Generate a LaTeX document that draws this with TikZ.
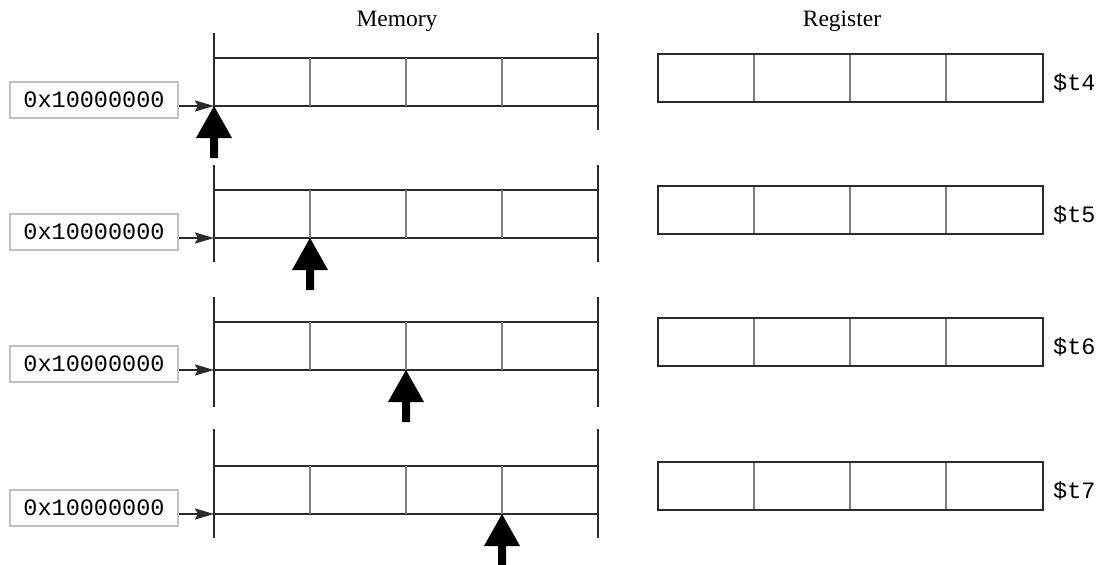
\documentclass[tikz,border=0pt]{standalone}
\usepackage{fontspec}
\setmainfont{Liberation Serif}
\setmonofont{Liberation Mono}
\usetikzlibrary{arrows.meta}
\definecolor{ink}{HTML}{2B2B2B}
\definecolor{divider}{HTML}{808080}
\definecolor{boxline}{HTML}{C0C0C0}
\tikzset{
  frame/.style={draw=ink, line width=2pt},
  cellsep/.style={draw=divider, line width=1.3pt},
  addrbox/.style={draw=boxline, line width=1.3pt, rectangle, minimum width=168pt,
    minimum height=36pt, inner sep=0pt, font=\ttfamily\fontsize{23.5}{28}\selectfont},
  title/.style={anchor=base, inner sep=0pt, font=\fontsize{23.5}{28}\selectfont},
  reglabel/.style={anchor=base west, inner sep=0pt, font=\ttfamily\fontsize{23.5}{28}\selectfont},
  feed/.style={draw=ink, line width=2pt, -{Stealth[length=19pt,width=11pt,inset=3pt]}},
  pointer/.style={fill=black, draw=none}
}
\begin{document}
\begin{tikzpicture}[x=1pt, y=-1pt]
  \useasboundingbox (0,0) rectangle (1106,565);

  % column headings
  \node[title] (memtitle) at (397,26.7) {Memory};
  \node[title] (regtitle) at (842,26.7) {Register};

  % one row per load step: top line, vertical extent of the memory bounds, register name
  \foreach \i/\t/\vt/\vb/\r in {1/58/33/130/4, 2/190/165/262/5, 3/322/297/407/6, 4/466/429/538/7}{
    \pgfmathsetmacro{\b}{\t+48}
    \pgfmathsetmacro{\px}{214+96*(\i-1)}
    % memory strip
    \draw[frame] (214,\vt) -- (214,\vb);
    \draw[frame] (598,\vt) -- (598,\vb);
    \draw[frame] (214,\t) -- (598,\t);
    \draw[frame] (214,\b) -- (598,\b);
    \foreach \x in {310,406,502}{
      \draw[cellsep] (\x,\t) -- (\x,\b);
    }
    % base address feeding the memory strip
    \coordinate (base\i) at (214,\b);
    \node[addrbox] (addr\i) at (94,\t+42) {0x10000000};
    \draw[feed] (addr\i.east |- base\i) -- (base\i);
    % byte pointer
    \coordinate (ptr\i) at (\px,\b);
    \fill[pointer] (ptr\i) -- ++(18,32) -- ++(-14,0) -- ++(0,20) -- ++(-8,0)
      -- ++(0,-20) -- ++(-14,0) -- cycle;
    % register
    \pgfmathsetmacro{\rt}{\t-4}
    \pgfmathsetmacro{\rb}{\t+44}
    \foreach \x in {754,850,946}{
      \draw[cellsep] (\x,\rt) -- (\x,\rb);
    }
    \draw[frame] (658,\rt) rectangle (1043,\rb);
    \node[reglabel] (reg\i) at (1053,\t+32) {\$t\r};
  }
\end{tikzpicture}
\end{document}
